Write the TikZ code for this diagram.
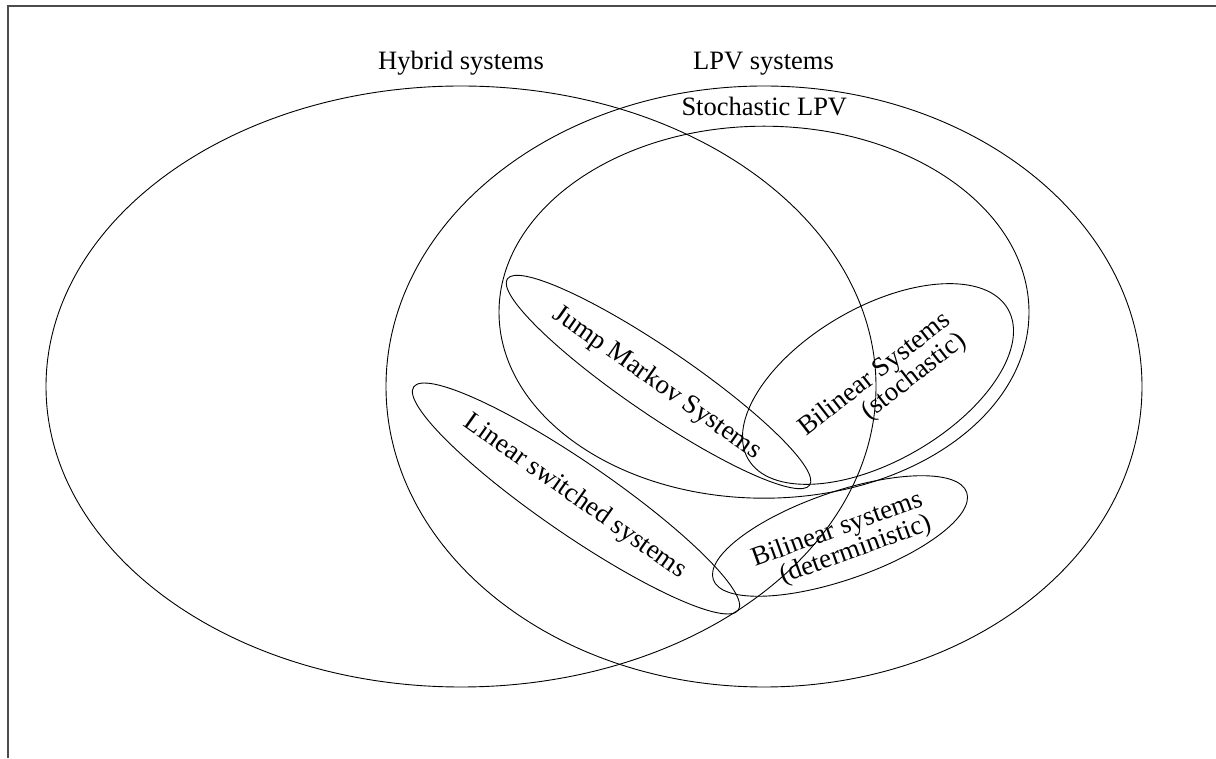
\documentclass[tikz,border=0pt]{standalone}
\usepackage{fontspec}
\setmainfont{Liberation Serif}
\usetikzlibrary{shapes.geometric}
\begin{document}
\begin{tikzpicture}[x=1pt,y=1pt,
  set/.style={draw=black,line width=0.9pt,shape=ellipse,inner sep=0pt,outer sep=0pt},
  outerlbl/.style={font=\fontsize{26.5}{30}\selectfont,anchor=base,inner sep=0pt},
  innerlbl/.style={font=\fontsize{27}{24}\selectfont,inner sep=0pt},
  frameline/.style={draw=black!70,line width=1.3pt}]
\useasboundingbox (0,0) rectangle (1216,758);
\coordinate (fbl) at (8,0);
\coordinate (ftl) at (8,752);
\coordinate (ftr) at (1216,752);
\draw[frameline] (fbl) -- (ftl) -- (ftr);
% large sets
\node[set,minimum width=830pt,minimum height=601pt] (hyb) at (461,371.5) {};
\node[set,minimum width=756pt,minimum height=601pt] (lpv) at (764,371.5) {};
\node[set,minimum width=530pt,minimum height=372pt] (slpv) at (764,445.8) {};
% small sets
\node[set,minimum width=366pt,minimum height=66pt,rotate=-34.3] (jm) at (658.5,376) {};
\node[set,minimum width=394pt,minimum height=72pt,rotate=-34.5] (ls) at (576,259.5) {};
\node[set,minimum width=300pt,minimum height=154pt,rotate=30] (bs) at (878,374) {};
\node[set,minimum width=268pt,minimum height=88pt,rotate=19] (bd) at (840,222) {};
% labels
\node[outerlbl] (thyb) at (461,688.7) {Hybrid systems};
\node[outerlbl] (tlpv) at (763.5,688.7) {LPV systems};
\node[outerlbl] (tslpv) at (764.3,642.3) {Stochastic LPV};
\node[innerlbl,rotate=-35] (tjm) at (657,375) {Jump Markov Systems};
\node[innerlbl,rotate=-35.3] (tls) at (575,261) {Linear switched systems};
\node[innerlbl,rotate=38,align=right] (tbs) at (883,373) {Bilinear Systems\\(stochastic)};
\node[innerlbl,rotate=20,align=right] (tbd) at (842,216) {Bilinear systems\\(deterministic)};
\end{tikzpicture}
\end{document}
